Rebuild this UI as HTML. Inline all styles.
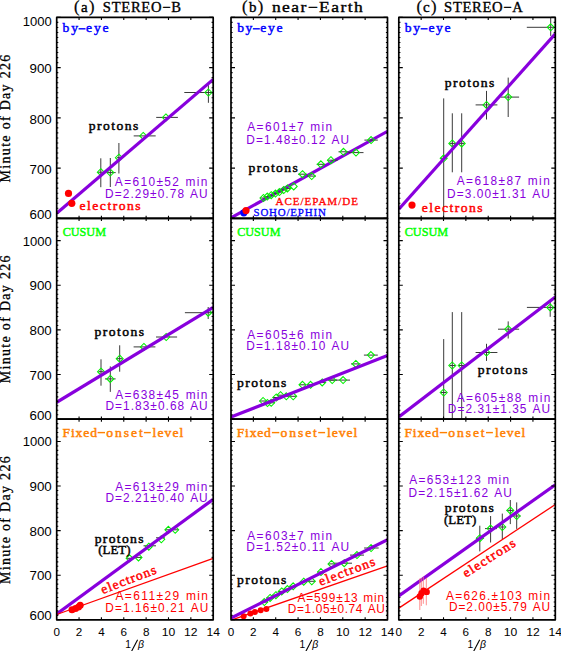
<!DOCTYPE html><html><head><meta charset="utf-8"><style>html,body{margin:0;padding:0;background:#fff;width:561px;height:651px;overflow:hidden}svg{display:block}</style></head><body>
<svg width="561" height="651" viewBox="0 0 561 651">
<rect width="561" height="651" fill="#fff"/>
<defs><clipPath id="c00"><rect x="56.7" y="17.4" width="156.5" height="200.90"/></clipPath><clipPath id="c01"><rect x="56.7" y="218.3" width="156.5" height="200.90"/></clipPath><clipPath id="c02"><rect x="56.7" y="419.2" width="156.5" height="200.60"/></clipPath><clipPath id="c10"><rect x="231.0" y="17.4" width="156.5" height="200.90"/></clipPath><clipPath id="c11"><rect x="231.0" y="218.3" width="156.5" height="200.90"/></clipPath><clipPath id="c12"><rect x="231.0" y="419.2" width="156.5" height="200.60"/></clipPath><clipPath id="c20"><rect x="398.8" y="17.4" width="156.5" height="200.90"/></clipPath><clipPath id="c21"><rect x="398.8" y="218.3" width="156.5" height="200.90"/></clipPath><clipPath id="c22"><rect x="398.8" y="419.2" width="156.5" height="200.60"/></clipPath></defs>
<g clip-path="url(#c00)">
<path d="M98.0 172.2H104.0M106.6 172.6H115.7M117.0 157.7H121.0M133.7 135.9H155.7M156.2 117.4H177.9M184.3 92.5H214.0M100.8 158.3V187.2M110.3 158.0V187.0M118.9 143.0V173.5M208.4 85.2V102.8" stroke="#3a3a3a" stroke-width="1" fill="none"/>
<path d="M100.8 168.7L104.3 172.2L100.8 175.7L97.3 172.2ZM110.3 169.1L113.8 172.6L110.3 176.1L106.8 172.6ZM118.9 154.2L122.4 157.7L118.9 161.2L115.4 157.7ZM143.2 132.4L146.7 135.9L143.2 139.4L139.7 135.9ZM165.9 113.9L169.4 117.4L165.9 120.9L162.4 117.4ZM208.4 89.0L211.9 92.5L208.4 96.0L204.9 92.5Z" stroke="#00f000" stroke-width="1.05" fill="none"/>
<line x1="56.7" y1="213.3" x2="213.2" y2="79.4" stroke="#8800dd" stroke-width="3.2"/>
<circle cx="68.5" cy="193.4" r="3.6" fill="#ff0000"/>
<circle cx="71.8" cy="203.3" r="3.6" fill="#ff0000"/>
</g>
<g clip-path="url(#c10)">
<line x1="231.0" y1="217.8" x2="387.5" y2="131.3" stroke="#8800dd" stroke-width="3.2"/>
<path d="M260.0 198.0H267.0M263.8 196.6H270.8M267.7 195.2H274.7M272.0 193.6H279.0M275.9 192.1H282.9M280.2 190.0H287.2M283.9 188.4H290.9M298.0 174.2H307.0M307.0 176.1H316.0M316.7 164.3H325.2M327.6 160.2H337.6M338.5 151.8H348.5M348.5 152.6H363.5M364.4 140.1H377.8" stroke="#3a3a3a" stroke-width="1" fill="none"/>
<path d="M263.5 194.5L267.0 198.0L263.5 201.5L260.0 198.0ZM267.3 193.1L270.8 196.6L267.3 200.1L263.8 196.6ZM271.2 191.7L274.7 195.2L271.2 198.7L267.7 195.2ZM275.5 190.1L279.0 193.6L275.5 197.1L272.0 193.6ZM279.4 188.6L282.9 192.1L279.4 195.6L275.9 192.1ZM283.7 186.5L287.2 190.0L283.7 193.5L280.2 190.0ZM287.4 184.9L290.9 188.4L287.4 191.9L283.9 188.4ZM293.7 182.9L297.2 186.4L293.7 189.9L290.2 186.4ZM302.5 170.7L306.0 174.2L302.5 177.7L299.0 174.2ZM311.7 172.6L315.2 176.1L311.7 179.6L308.2 176.1ZM320.9 160.8L324.4 164.3L320.9 167.8L317.4 164.3ZM330.9 156.7L334.4 160.2L330.9 163.7L327.4 160.2ZM343.5 148.3L347.0 151.8L343.5 155.3L340.0 151.8ZM356.0 149.1L359.5 152.6L356.0 156.1L352.5 152.6ZM371.1 136.6L374.6 140.1L371.1 143.6L367.6 140.1Z" stroke="#00f000" stroke-width="1.05" fill="none"/>
<circle cx="243.8" cy="212.8" r="3.6" fill="#0000ff"/>
<circle cx="246" cy="210.6" r="3.6" fill="#ff0000"/>
</g>
<g clip-path="url(#c20)">
<path d="M441.0 158.3H446.5M449.5 143.4H455.0M459.0 143.4H464.5M475.6 104.9H497.4M500.5 97.1H519.1M526.8 27.3H556.0M443.7 98.4V220.0M452.3 113.3V172.3M461.7 113.3V172.3M486.5 90.9V119.5M508.2 77.6V117.0M550.7 17.0V35.9" stroke="#3a3a3a" stroke-width="1" fill="none"/>
<path d="M443.7 154.8L447.2 158.3L443.7 161.8L440.2 158.3ZM452.3 139.9L455.8 143.4L452.3 146.9L448.8 143.4ZM461.7 139.9L465.2 143.4L461.7 146.9L458.2 143.4ZM486.5 101.4L490.0 104.9L486.5 108.4L483.0 104.9ZM508.2 93.6L511.7 97.1L508.2 100.6L504.7 97.1ZM550.7 23.8L554.2 27.3L550.7 30.8L547.2 27.3Z" stroke="#00f000" stroke-width="1.05" fill="none"/>
<line x1="398.8" y1="209.2" x2="555.3" y2="33.8" stroke="#8800dd" stroke-width="3.2"/>
<circle cx="412" cy="205.1" r="3.6" fill="#ff0000"/>
</g>
<g clip-path="url(#c01)">
<path d="M98.5 371.7H103.5M105.0 378.9H115.6M117.0 358.7H122.5M133.6 346.9H155.4M156.0 337.0H177.1M184.9 312.7H214.0M101.0 359.3V385.7M110.3 366.4V391.9M119.7 345.3V371.7M208.2 307.0V319.0" stroke="#3a3a3a" stroke-width="1" fill="none"/>
<path d="M101.0 368.2L104.5 371.7L101.0 375.2L97.5 371.7ZM110.3 375.4L113.8 378.9L110.3 382.4L106.8 378.9ZM119.7 355.2L123.2 358.7L119.7 362.2L116.2 358.7ZM143.9 343.4L147.4 346.9L143.9 350.4L140.4 346.9ZM166.2 333.5L169.7 337.0L166.2 340.5L162.7 337.0ZM208.2 309.2L211.7 312.7L208.2 316.2L204.7 312.7Z" stroke="#00f000" stroke-width="1.05" fill="none"/>
<line x1="56.7" y1="402.3" x2="213.2" y2="307.3" stroke="#8800dd" stroke-width="3.2"/>
</g>
<g clip-path="url(#c11)">
<path d="M259.6 401.0H266.6M264.0 403.0H271.0M267.7 402.8H274.7M272.8 397.5H279.8M277.0 395.2H284.0M282.8 396.3H289.8M289.7 396.3H296.7M299.0 384.8H306.0M307.1 384.8H314.1M318.7 382.4H325.7M328.0 380.1H337.0M329.2 380.1H350.0M351.0 363.9H360.5M363.9 355.1H377.8" stroke="#3a3a3a" stroke-width="1" fill="none"/>
<path d="M263.1 397.5L266.6 401.0L263.1 404.5L259.6 401.0ZM267.5 399.5L271.0 403.0L267.5 406.5L264.0 403.0ZM271.2 399.3L274.7 402.8L271.2 406.3L267.7 402.8ZM276.3 394.0L279.8 397.5L276.3 401.0L272.8 397.5ZM280.5 391.7L284.0 395.2L280.5 398.7L277.0 395.2ZM286.3 392.8L289.8 396.3L286.3 399.8L282.8 396.3ZM293.2 392.8L296.7 396.3L293.2 399.8L289.7 396.3ZM302.5 381.3L306.0 384.8L302.5 388.3L299.0 384.8ZM310.6 381.3L314.1 384.8L310.6 388.3L307.1 384.8ZM322.2 378.9L325.7 382.4L322.2 385.9L318.7 382.4ZM332.2 376.6L335.7 380.1L332.2 383.6L328.7 380.1ZM343.1 376.6L346.6 380.1L343.1 383.6L339.6 380.1ZM355.8 360.4L359.3 363.9L355.8 367.4L352.3 363.9ZM370.9 351.6L374.4 355.1L370.9 358.6L367.4 355.1Z" stroke="#00f000" stroke-width="1.05" fill="none"/>
<line x1="231.0" y1="417.0" x2="387.5" y2="355.6" stroke="#8800dd" stroke-width="3.2"/>
</g>
<g clip-path="url(#c21)">
<path d="M441.0 392.5H446.5M449.5 365.5H455.0M459.0 365.5H464.5M475.6 352.5H497.4M498.0 329.2H519.1M526.9 307.4H556.0M443.7 339.1V420.0M452.3 312.1V420.0M461.7 312.1V420.0M486.5 343.8V360.9M508.2 321.4V338.5M550.2 301.9V316.8" stroke="#3a3a3a" stroke-width="1" fill="none"/>
<path d="M443.7 389.0L447.2 392.5L443.7 396.0L440.2 392.5ZM452.3 362.0L455.8 365.5L452.3 369.0L448.8 365.5ZM461.7 362.0L465.2 365.5L461.7 369.0L458.2 365.5ZM486.5 349.0L490.0 352.5L486.5 356.0L483.0 352.5ZM508.2 325.7L511.7 329.2L508.2 332.7L504.7 329.2ZM550.2 303.9L553.7 307.4L550.2 310.9L546.7 307.4Z" stroke="#00f000" stroke-width="1.05" fill="none"/>
<line x1="398.8" y1="417.0" x2="555.3" y2="296.9" stroke="#8800dd" stroke-width="3.2"/>
</g>
<g clip-path="url(#c02)">
<path d="M126.0 558.3H133.0M135.0 557.4H142.0M143.5 545.8H156.0M156.0 537.8H164.9M165.0 529.8H172.0M172.0 529.8H178.5" stroke="#3a3a3a" stroke-width="1" fill="none"/>
<path d="M129.6 554.8L133.1 558.3L129.6 561.8L126.1 558.3ZM138.5 553.9L142.0 557.4L138.5 560.9L135.0 557.4ZM148.8 543.2L152.3 546.7L148.8 550.2L145.3 546.7ZM161.3 535.8L164.8 539.3L161.3 542.8L157.8 539.3ZM168.4 526.3L171.9 529.8L168.4 533.3L164.9 529.8ZM175.2 526.3L178.7 529.8L175.2 533.3L171.7 529.8Z" stroke="#00f000" stroke-width="1.05" fill="none"/>
<line x1="56.7" y1="614.0" x2="213.2" y2="499.3" stroke="#8800dd" stroke-width="3.2"/>
<line x1="56.7" y1="614.5" x2="213.2" y2="558.3" stroke="#ff0000" stroke-width="1.3"/>
<circle cx="72" cy="609.8" r="3.5" fill="#ff0000"/>
<circle cx="75.5" cy="608.6" r="3.5" fill="#ff0000"/>
<circle cx="78.5" cy="607.0" r="3.5" fill="#ff0000"/>
<circle cx="80.2" cy="605.3" r="3.5" fill="#ff0000"/>
</g>
<g clip-path="url(#c12)">
<path d="M260.8 602.1H267.8M266.6 597.9H273.6M272.4 595.2H279.4M278.2 591.4H285.2M283.9 589.1H290.9M289.7 586.3H296.7M300.2 581.7H307.2M308.3 581.3H315.3M317.5 572.0H324.5M328.0 563.9H335.0M334.0 563.2H352.0M350.0 555.1H364.0M364.1 548.0H378.7" stroke="#3a3a3a" stroke-width="1" fill="none"/>
<path d="M264.3 598.6L267.8 602.1L264.3 605.6L260.8 602.1ZM270.1 594.4L273.6 597.9L270.1 601.4L266.6 597.9ZM275.9 591.7L279.4 595.2L275.9 598.7L272.4 595.2ZM281.7 587.9L285.2 591.4L281.7 594.9L278.2 591.4ZM287.4 585.6L290.9 589.1L287.4 592.6L283.9 589.1ZM293.2 582.8L296.7 586.3L293.2 589.8L289.7 586.3ZM303.7 578.2L307.2 581.7L303.7 585.2L300.2 581.7ZM311.8 577.8L315.3 581.3L311.8 584.8L308.3 581.3ZM321.0 568.5L324.5 572.0L321.0 575.5L317.5 572.0ZM331.5 560.4L335.0 563.9L331.5 567.4L328.0 563.9ZM344.2 559.7L347.7 563.2L344.2 566.7L340.7 563.2ZM357.0 551.6L360.5 555.1L357.0 558.6L353.5 555.1ZM371.1 544.5L374.6 548.0L371.1 551.5L367.6 548.0Z" stroke="#00f000" stroke-width="1.05" fill="none"/>
<line x1="231.0" y1="620.2" x2="387.5" y2="565.8" stroke="#ff0000" stroke-width="1.3"/>
<circle cx="243.6" cy="616.2" r="3.0" fill="#ff0000"/>
<circle cx="250.4" cy="613.5" r="3.0" fill="#ff0000"/>
<circle cx="254.9" cy="611.9" r="3.0" fill="#ff0000"/>
<circle cx="260.7" cy="610.2" r="3.0" fill="#ff0000"/>
<circle cx="266.4" cy="609.0" r="3.0" fill="#ff0000"/>
<line x1="231.0" y1="618.0" x2="387.5" y2="539.6" stroke="#8800dd" stroke-width="3.2"/>
</g>
<g clip-path="url(#c22)">
<path d="M476.1 538.2H484.1M485.0 528.6H497.0M498.6 527.0H505.8M506.6 510.4H513.8M513.0 516.0H520.5M479.8 525.7V551.4M490.6 516.0V542.5M502.3 513.6V539.3M510.3 500.0V524.1M516.7 502.4V528.9" stroke="#3a3a3a" stroke-width="1" fill="none"/>
<path d="M479.8 534.7L483.3 538.2L479.8 541.7L476.3 538.2ZM490.6 525.1L494.1 528.6L490.6 532.1L487.1 528.6ZM502.3 523.5L505.8 527.0L502.3 530.5L498.8 527.0ZM510.3 506.9L513.8 510.4L510.3 513.9L506.8 510.4ZM516.7 512.5L520.2 516.0L516.7 519.5L513.2 516.0Z" stroke="#00f000" stroke-width="1.05" fill="none"/>
<line x1="398.8" y1="596.0" x2="555.3" y2="484.7" stroke="#8800dd" stroke-width="3.2"/>
<line x1="398.8" y1="608.1" x2="555.3" y2="504.5" stroke="#ff0000" stroke-width="1.3"/>
<path d="M419.8 578.5V610M421.3 578V606M423.3 576.8V603.8M426.3 577.8V605.3" stroke="#ff7070" stroke-opacity="0.8" stroke-width="1" fill="none"/>
<circle cx="419.8" cy="596.5" r="3.2" fill="#ff0000"/>
<circle cx="421.5" cy="593.2" r="3.2" fill="#ff0000"/>
<circle cx="423.6" cy="590.8" r="3.2" fill="#ff0000"/>
<circle cx="426.7" cy="591.9" r="3.2" fill="#ff0000"/>
</g>
<path d="M56.70 218.30h4.0M213.20 218.30h-4.0M56.70 213.28h1.6M213.20 213.28h-1.6M56.70 208.26h1.6M213.20 208.26h-1.6M56.70 203.23h1.6M213.20 203.23h-1.6M56.70 198.21h1.6M213.20 198.21h-1.6M56.70 193.19h1.6M213.20 193.19h-1.6M56.70 188.17h1.6M213.20 188.17h-1.6M56.70 183.14h1.6M213.20 183.14h-1.6M56.70 178.12h1.6M213.20 178.12h-1.6M56.70 173.10h1.6M213.20 173.10h-1.6M56.70 168.08h4.0M213.20 168.08h-4.0M56.70 163.05h1.6M213.20 163.05h-1.6M56.70 158.03h1.6M213.20 158.03h-1.6M56.70 153.01h1.6M213.20 153.01h-1.6M56.70 147.99h1.6M213.20 147.99h-1.6M56.70 142.96h1.6M213.20 142.96h-1.6M56.70 137.94h1.6M213.20 137.94h-1.6M56.70 132.92h1.6M213.20 132.92h-1.6M56.70 127.90h1.6M213.20 127.90h-1.6M56.70 122.87h1.6M213.20 122.87h-1.6M56.70 117.85h4.0M213.20 117.85h-4.0M56.70 112.83h1.6M213.20 112.83h-1.6M56.70 107.81h1.6M213.20 107.81h-1.6M56.70 102.78h1.6M213.20 102.78h-1.6M56.70 97.76h1.6M213.20 97.76h-1.6M56.70 92.74h1.6M213.20 92.74h-1.6M56.70 87.72h1.6M213.20 87.72h-1.6M56.70 82.69h1.6M213.20 82.69h-1.6M56.70 77.67h1.6M213.20 77.67h-1.6M56.70 72.65h1.6M213.20 72.65h-1.6M56.70 67.63h4.0M213.20 67.63h-4.0M56.70 62.60h1.6M213.20 62.60h-1.6M56.70 57.58h1.6M213.20 57.58h-1.6M56.70 52.56h1.6M213.20 52.56h-1.6M56.70 47.54h1.6M213.20 47.54h-1.6M56.70 42.51h1.6M213.20 42.51h-1.6M56.70 37.49h1.6M213.20 37.49h-1.6M56.70 32.47h1.6M213.20 32.47h-1.6M56.70 27.45h1.6M213.20 27.45h-1.6M56.70 22.42h1.6M213.20 22.42h-1.6M56.70 17.40h4.0M213.20 17.40h-4.0M79.06 218.30v-2.6M79.06 17.40v2.6M101.41 218.30v-2.6M101.41 17.40v2.6M123.77 218.30v-2.6M123.77 17.40v2.6M146.13 218.30v-2.6M146.13 17.40v2.6M168.49 218.30v-2.6M168.49 17.40v2.6M190.84 218.30v-2.6M190.84 17.40v2.6" stroke="#000" stroke-width="1.1" fill="none"/>
<rect x="56.7" y="17.4" width="156.5" height="200.90" fill="none" stroke="#000" stroke-width="1.7" stroke-linejoin="round"/>
<path d="M56.70 419.20h4.0M213.20 419.20h-4.0M56.70 414.74h1.6M213.20 414.74h-1.6M56.70 410.27h1.6M213.20 410.27h-1.6M56.70 405.81h1.6M213.20 405.81h-1.6M56.70 401.34h1.6M213.20 401.34h-1.6M56.70 396.88h1.6M213.20 396.88h-1.6M56.70 392.41h1.6M213.20 392.41h-1.6M56.70 387.95h1.6M213.20 387.95h-1.6M56.70 383.48h1.6M213.20 383.48h-1.6M56.70 379.02h1.6M213.20 379.02h-1.6M56.70 374.56h4.0M213.20 374.56h-4.0M56.70 370.09h1.6M213.20 370.09h-1.6M56.70 365.63h1.6M213.20 365.63h-1.6M56.70 361.16h1.6M213.20 361.16h-1.6M56.70 356.70h1.6M213.20 356.70h-1.6M56.70 352.23h1.6M213.20 352.23h-1.6M56.70 347.77h1.6M213.20 347.77h-1.6M56.70 343.30h1.6M213.20 343.30h-1.6M56.70 338.84h1.6M213.20 338.84h-1.6M56.70 334.38h1.6M213.20 334.38h-1.6M56.70 329.91h4.0M213.20 329.91h-4.0M56.70 325.45h1.6M213.20 325.45h-1.6M56.70 320.98h1.6M213.20 320.98h-1.6M56.70 316.52h1.6M213.20 316.52h-1.6M56.70 312.05h1.6M213.20 312.05h-1.6M56.70 307.59h1.6M213.20 307.59h-1.6M56.70 303.12h1.6M213.20 303.12h-1.6M56.70 298.66h1.6M213.20 298.66h-1.6M56.70 294.20h1.6M213.20 294.20h-1.6M56.70 289.73h1.6M213.20 289.73h-1.6M56.70 285.27h4.0M213.20 285.27h-4.0M56.70 280.80h1.6M213.20 280.80h-1.6M56.70 276.34h1.6M213.20 276.34h-1.6M56.70 271.87h1.6M213.20 271.87h-1.6M56.70 267.41h1.6M213.20 267.41h-1.6M56.70 262.94h1.6M213.20 262.94h-1.6M56.70 258.48h1.6M213.20 258.48h-1.6M56.70 254.02h1.6M213.20 254.02h-1.6M56.70 249.55h1.6M213.20 249.55h-1.6M56.70 245.09h1.6M213.20 245.09h-1.6M56.70 240.62h4.0M213.20 240.62h-4.0M56.70 236.16h1.6M213.20 236.16h-1.6M56.70 231.69h1.6M213.20 231.69h-1.6M56.70 227.23h1.6M213.20 227.23h-1.6M56.70 222.76h1.6M213.20 222.76h-1.6M56.70 218.30h1.6M213.20 218.30h-1.6M79.06 419.20v-2.6M79.06 218.30v2.6M101.41 419.20v-2.6M101.41 218.30v2.6M123.77 419.20v-2.6M123.77 218.30v2.6M146.13 419.20v-2.6M146.13 218.30v2.6M168.49 419.20v-2.6M168.49 218.30v2.6M190.84 419.20v-2.6M190.84 218.30v2.6" stroke="#000" stroke-width="1.1" fill="none"/>
<rect x="56.7" y="218.3" width="156.5" height="200.90" fill="none" stroke="#000" stroke-width="1.7" stroke-linejoin="round"/>
<path d="M56.70 619.80h4.0M213.20 619.80h-4.0M56.70 615.34h1.6M213.20 615.34h-1.6M56.70 610.88h1.6M213.20 610.88h-1.6M56.70 606.43h1.6M213.20 606.43h-1.6M56.70 601.97h1.6M213.20 601.97h-1.6M56.70 597.51h1.6M213.20 597.51h-1.6M56.70 593.05h1.6M213.20 593.05h-1.6M56.70 588.60h1.6M213.20 588.60h-1.6M56.70 584.14h1.6M213.20 584.14h-1.6M56.70 579.68h1.6M213.20 579.68h-1.6M56.70 575.22h4.0M213.20 575.22h-4.0M56.70 570.76h1.6M213.20 570.76h-1.6M56.70 566.31h1.6M213.20 566.31h-1.6M56.70 561.85h1.6M213.20 561.85h-1.6M56.70 557.39h1.6M213.20 557.39h-1.6M56.70 552.93h1.6M213.20 552.93h-1.6M56.70 548.48h1.6M213.20 548.48h-1.6M56.70 544.02h1.6M213.20 544.02h-1.6M56.70 539.56h1.6M213.20 539.56h-1.6M56.70 535.10h1.6M213.20 535.10h-1.6M56.70 530.64h4.0M213.20 530.64h-4.0M56.70 526.19h1.6M213.20 526.19h-1.6M56.70 521.73h1.6M213.20 521.73h-1.6M56.70 517.27h1.6M213.20 517.27h-1.6M56.70 512.81h1.6M213.20 512.81h-1.6M56.70 508.36h1.6M213.20 508.36h-1.6M56.70 503.90h1.6M213.20 503.90h-1.6M56.70 499.44h1.6M213.20 499.44h-1.6M56.70 494.98h1.6M213.20 494.98h-1.6M56.70 490.52h1.6M213.20 490.52h-1.6M56.70 486.07h4.0M213.20 486.07h-4.0M56.70 481.61h1.6M213.20 481.61h-1.6M56.70 477.15h1.6M213.20 477.15h-1.6M56.70 472.69h1.6M213.20 472.69h-1.6M56.70 468.24h1.6M213.20 468.24h-1.6M56.70 463.78h1.6M213.20 463.78h-1.6M56.70 459.32h1.6M213.20 459.32h-1.6M56.70 454.86h1.6M213.20 454.86h-1.6M56.70 450.40h1.6M213.20 450.40h-1.6M56.70 445.95h1.6M213.20 445.95h-1.6M56.70 441.49h4.0M213.20 441.49h-4.0M56.70 437.03h1.6M213.20 437.03h-1.6M56.70 432.57h1.6M213.20 432.57h-1.6M56.70 428.12h1.6M213.20 428.12h-1.6M56.70 423.66h1.6M213.20 423.66h-1.6M56.70 419.20h1.6M213.20 419.20h-1.6M79.06 619.80v-2.6M79.06 419.20v2.6M101.41 619.80v-2.6M101.41 419.20v2.6M123.77 619.80v-2.6M123.77 419.20v2.6M146.13 619.80v-2.6M146.13 419.20v2.6M168.49 619.80v-2.6M168.49 419.20v2.6M190.84 619.80v-2.6M190.84 419.20v2.6" stroke="#000" stroke-width="1.1" fill="none"/>
<rect x="56.7" y="419.2" width="156.5" height="200.60" fill="none" stroke="#000" stroke-width="1.7" stroke-linejoin="round"/>
<path d="M231.00 218.30h4.0M387.50 218.30h-4.0M231.00 213.28h1.6M387.50 213.28h-1.6M231.00 208.26h1.6M387.50 208.26h-1.6M231.00 203.23h1.6M387.50 203.23h-1.6M231.00 198.21h1.6M387.50 198.21h-1.6M231.00 193.19h1.6M387.50 193.19h-1.6M231.00 188.17h1.6M387.50 188.17h-1.6M231.00 183.14h1.6M387.50 183.14h-1.6M231.00 178.12h1.6M387.50 178.12h-1.6M231.00 173.10h1.6M387.50 173.10h-1.6M231.00 168.08h4.0M387.50 168.08h-4.0M231.00 163.05h1.6M387.50 163.05h-1.6M231.00 158.03h1.6M387.50 158.03h-1.6M231.00 153.01h1.6M387.50 153.01h-1.6M231.00 147.99h1.6M387.50 147.99h-1.6M231.00 142.96h1.6M387.50 142.96h-1.6M231.00 137.94h1.6M387.50 137.94h-1.6M231.00 132.92h1.6M387.50 132.92h-1.6M231.00 127.90h1.6M387.50 127.90h-1.6M231.00 122.87h1.6M387.50 122.87h-1.6M231.00 117.85h4.0M387.50 117.85h-4.0M231.00 112.83h1.6M387.50 112.83h-1.6M231.00 107.81h1.6M387.50 107.81h-1.6M231.00 102.78h1.6M387.50 102.78h-1.6M231.00 97.76h1.6M387.50 97.76h-1.6M231.00 92.74h1.6M387.50 92.74h-1.6M231.00 87.72h1.6M387.50 87.72h-1.6M231.00 82.69h1.6M387.50 82.69h-1.6M231.00 77.67h1.6M387.50 77.67h-1.6M231.00 72.65h1.6M387.50 72.65h-1.6M231.00 67.63h4.0M387.50 67.63h-4.0M231.00 62.60h1.6M387.50 62.60h-1.6M231.00 57.58h1.6M387.50 57.58h-1.6M231.00 52.56h1.6M387.50 52.56h-1.6M231.00 47.54h1.6M387.50 47.54h-1.6M231.00 42.51h1.6M387.50 42.51h-1.6M231.00 37.49h1.6M387.50 37.49h-1.6M231.00 32.47h1.6M387.50 32.47h-1.6M231.00 27.45h1.6M387.50 27.45h-1.6M231.00 22.42h1.6M387.50 22.42h-1.6M231.00 17.40h4.0M387.50 17.40h-4.0M253.36 218.30v-2.6M253.36 17.40v2.6M275.71 218.30v-2.6M275.71 17.40v2.6M298.07 218.30v-2.6M298.07 17.40v2.6M320.43 218.30v-2.6M320.43 17.40v2.6M342.79 218.30v-2.6M342.79 17.40v2.6M365.14 218.30v-2.6M365.14 17.40v2.6" stroke="#000" stroke-width="1.1" fill="none"/>
<rect x="231.0" y="17.4" width="156.5" height="200.90" fill="none" stroke="#000" stroke-width="1.7" stroke-linejoin="round"/>
<path d="M231.00 419.20h4.0M387.50 419.20h-4.0M231.00 414.74h1.6M387.50 414.74h-1.6M231.00 410.27h1.6M387.50 410.27h-1.6M231.00 405.81h1.6M387.50 405.81h-1.6M231.00 401.34h1.6M387.50 401.34h-1.6M231.00 396.88h1.6M387.50 396.88h-1.6M231.00 392.41h1.6M387.50 392.41h-1.6M231.00 387.95h1.6M387.50 387.95h-1.6M231.00 383.48h1.6M387.50 383.48h-1.6M231.00 379.02h1.6M387.50 379.02h-1.6M231.00 374.56h4.0M387.50 374.56h-4.0M231.00 370.09h1.6M387.50 370.09h-1.6M231.00 365.63h1.6M387.50 365.63h-1.6M231.00 361.16h1.6M387.50 361.16h-1.6M231.00 356.70h1.6M387.50 356.70h-1.6M231.00 352.23h1.6M387.50 352.23h-1.6M231.00 347.77h1.6M387.50 347.77h-1.6M231.00 343.30h1.6M387.50 343.30h-1.6M231.00 338.84h1.6M387.50 338.84h-1.6M231.00 334.38h1.6M387.50 334.38h-1.6M231.00 329.91h4.0M387.50 329.91h-4.0M231.00 325.45h1.6M387.50 325.45h-1.6M231.00 320.98h1.6M387.50 320.98h-1.6M231.00 316.52h1.6M387.50 316.52h-1.6M231.00 312.05h1.6M387.50 312.05h-1.6M231.00 307.59h1.6M387.50 307.59h-1.6M231.00 303.12h1.6M387.50 303.12h-1.6M231.00 298.66h1.6M387.50 298.66h-1.6M231.00 294.20h1.6M387.50 294.20h-1.6M231.00 289.73h1.6M387.50 289.73h-1.6M231.00 285.27h4.0M387.50 285.27h-4.0M231.00 280.80h1.6M387.50 280.80h-1.6M231.00 276.34h1.6M387.50 276.34h-1.6M231.00 271.87h1.6M387.50 271.87h-1.6M231.00 267.41h1.6M387.50 267.41h-1.6M231.00 262.94h1.6M387.50 262.94h-1.6M231.00 258.48h1.6M387.50 258.48h-1.6M231.00 254.02h1.6M387.50 254.02h-1.6M231.00 249.55h1.6M387.50 249.55h-1.6M231.00 245.09h1.6M387.50 245.09h-1.6M231.00 240.62h4.0M387.50 240.62h-4.0M231.00 236.16h1.6M387.50 236.16h-1.6M231.00 231.69h1.6M387.50 231.69h-1.6M231.00 227.23h1.6M387.50 227.23h-1.6M231.00 222.76h1.6M387.50 222.76h-1.6M231.00 218.30h1.6M387.50 218.30h-1.6M253.36 419.20v-2.6M253.36 218.30v2.6M275.71 419.20v-2.6M275.71 218.30v2.6M298.07 419.20v-2.6M298.07 218.30v2.6M320.43 419.20v-2.6M320.43 218.30v2.6M342.79 419.20v-2.6M342.79 218.30v2.6M365.14 419.20v-2.6M365.14 218.30v2.6" stroke="#000" stroke-width="1.1" fill="none"/>
<rect x="231.0" y="218.3" width="156.5" height="200.90" fill="none" stroke="#000" stroke-width="1.7" stroke-linejoin="round"/>
<path d="M231.00 619.80h4.0M387.50 619.80h-4.0M231.00 615.34h1.6M387.50 615.34h-1.6M231.00 610.88h1.6M387.50 610.88h-1.6M231.00 606.43h1.6M387.50 606.43h-1.6M231.00 601.97h1.6M387.50 601.97h-1.6M231.00 597.51h1.6M387.50 597.51h-1.6M231.00 593.05h1.6M387.50 593.05h-1.6M231.00 588.60h1.6M387.50 588.60h-1.6M231.00 584.14h1.6M387.50 584.14h-1.6M231.00 579.68h1.6M387.50 579.68h-1.6M231.00 575.22h4.0M387.50 575.22h-4.0M231.00 570.76h1.6M387.50 570.76h-1.6M231.00 566.31h1.6M387.50 566.31h-1.6M231.00 561.85h1.6M387.50 561.85h-1.6M231.00 557.39h1.6M387.50 557.39h-1.6M231.00 552.93h1.6M387.50 552.93h-1.6M231.00 548.48h1.6M387.50 548.48h-1.6M231.00 544.02h1.6M387.50 544.02h-1.6M231.00 539.56h1.6M387.50 539.56h-1.6M231.00 535.10h1.6M387.50 535.10h-1.6M231.00 530.64h4.0M387.50 530.64h-4.0M231.00 526.19h1.6M387.50 526.19h-1.6M231.00 521.73h1.6M387.50 521.73h-1.6M231.00 517.27h1.6M387.50 517.27h-1.6M231.00 512.81h1.6M387.50 512.81h-1.6M231.00 508.36h1.6M387.50 508.36h-1.6M231.00 503.90h1.6M387.50 503.90h-1.6M231.00 499.44h1.6M387.50 499.44h-1.6M231.00 494.98h1.6M387.50 494.98h-1.6M231.00 490.52h1.6M387.50 490.52h-1.6M231.00 486.07h4.0M387.50 486.07h-4.0M231.00 481.61h1.6M387.50 481.61h-1.6M231.00 477.15h1.6M387.50 477.15h-1.6M231.00 472.69h1.6M387.50 472.69h-1.6M231.00 468.24h1.6M387.50 468.24h-1.6M231.00 463.78h1.6M387.50 463.78h-1.6M231.00 459.32h1.6M387.50 459.32h-1.6M231.00 454.86h1.6M387.50 454.86h-1.6M231.00 450.40h1.6M387.50 450.40h-1.6M231.00 445.95h1.6M387.50 445.95h-1.6M231.00 441.49h4.0M387.50 441.49h-4.0M231.00 437.03h1.6M387.50 437.03h-1.6M231.00 432.57h1.6M387.50 432.57h-1.6M231.00 428.12h1.6M387.50 428.12h-1.6M231.00 423.66h1.6M387.50 423.66h-1.6M231.00 419.20h1.6M387.50 419.20h-1.6M253.36 619.80v-2.6M253.36 419.20v2.6M275.71 619.80v-2.6M275.71 419.20v2.6M298.07 619.80v-2.6M298.07 419.20v2.6M320.43 619.80v-2.6M320.43 419.20v2.6M342.79 619.80v-2.6M342.79 419.20v2.6M365.14 619.80v-2.6M365.14 419.20v2.6" stroke="#000" stroke-width="1.1" fill="none"/>
<rect x="231.0" y="419.2" width="156.5" height="200.60" fill="none" stroke="#000" stroke-width="1.7" stroke-linejoin="round"/>
<path d="M398.80 218.30h4.0M555.30 218.30h-4.0M398.80 213.28h1.6M555.30 213.28h-1.6M398.80 208.26h1.6M555.30 208.26h-1.6M398.80 203.23h1.6M555.30 203.23h-1.6M398.80 198.21h1.6M555.30 198.21h-1.6M398.80 193.19h1.6M555.30 193.19h-1.6M398.80 188.17h1.6M555.30 188.17h-1.6M398.80 183.14h1.6M555.30 183.14h-1.6M398.80 178.12h1.6M555.30 178.12h-1.6M398.80 173.10h1.6M555.30 173.10h-1.6M398.80 168.08h4.0M555.30 168.08h-4.0M398.80 163.05h1.6M555.30 163.05h-1.6M398.80 158.03h1.6M555.30 158.03h-1.6M398.80 153.01h1.6M555.30 153.01h-1.6M398.80 147.99h1.6M555.30 147.99h-1.6M398.80 142.96h1.6M555.30 142.96h-1.6M398.80 137.94h1.6M555.30 137.94h-1.6M398.80 132.92h1.6M555.30 132.92h-1.6M398.80 127.90h1.6M555.30 127.90h-1.6M398.80 122.87h1.6M555.30 122.87h-1.6M398.80 117.85h4.0M555.30 117.85h-4.0M398.80 112.83h1.6M555.30 112.83h-1.6M398.80 107.81h1.6M555.30 107.81h-1.6M398.80 102.78h1.6M555.30 102.78h-1.6M398.80 97.76h1.6M555.30 97.76h-1.6M398.80 92.74h1.6M555.30 92.74h-1.6M398.80 87.72h1.6M555.30 87.72h-1.6M398.80 82.69h1.6M555.30 82.69h-1.6M398.80 77.67h1.6M555.30 77.67h-1.6M398.80 72.65h1.6M555.30 72.65h-1.6M398.80 67.63h4.0M555.30 67.63h-4.0M398.80 62.60h1.6M555.30 62.60h-1.6M398.80 57.58h1.6M555.30 57.58h-1.6M398.80 52.56h1.6M555.30 52.56h-1.6M398.80 47.54h1.6M555.30 47.54h-1.6M398.80 42.51h1.6M555.30 42.51h-1.6M398.80 37.49h1.6M555.30 37.49h-1.6M398.80 32.47h1.6M555.30 32.47h-1.6M398.80 27.45h1.6M555.30 27.45h-1.6M398.80 22.42h1.6M555.30 22.42h-1.6M398.80 17.40h4.0M555.30 17.40h-4.0M421.16 218.30v-2.6M421.16 17.40v2.6M443.51 218.30v-2.6M443.51 17.40v2.6M465.87 218.30v-2.6M465.87 17.40v2.6M488.23 218.30v-2.6M488.23 17.40v2.6M510.59 218.30v-2.6M510.59 17.40v2.6M532.94 218.30v-2.6M532.94 17.40v2.6" stroke="#000" stroke-width="1.1" fill="none"/>
<rect x="398.8" y="17.4" width="156.5" height="200.90" fill="none" stroke="#000" stroke-width="1.7" stroke-linejoin="round"/>
<path d="M398.80 419.20h4.0M555.30 419.20h-4.0M398.80 414.74h1.6M555.30 414.74h-1.6M398.80 410.27h1.6M555.30 410.27h-1.6M398.80 405.81h1.6M555.30 405.81h-1.6M398.80 401.34h1.6M555.30 401.34h-1.6M398.80 396.88h1.6M555.30 396.88h-1.6M398.80 392.41h1.6M555.30 392.41h-1.6M398.80 387.95h1.6M555.30 387.95h-1.6M398.80 383.48h1.6M555.30 383.48h-1.6M398.80 379.02h1.6M555.30 379.02h-1.6M398.80 374.56h4.0M555.30 374.56h-4.0M398.80 370.09h1.6M555.30 370.09h-1.6M398.80 365.63h1.6M555.30 365.63h-1.6M398.80 361.16h1.6M555.30 361.16h-1.6M398.80 356.70h1.6M555.30 356.70h-1.6M398.80 352.23h1.6M555.30 352.23h-1.6M398.80 347.77h1.6M555.30 347.77h-1.6M398.80 343.30h1.6M555.30 343.30h-1.6M398.80 338.84h1.6M555.30 338.84h-1.6M398.80 334.38h1.6M555.30 334.38h-1.6M398.80 329.91h4.0M555.30 329.91h-4.0M398.80 325.45h1.6M555.30 325.45h-1.6M398.80 320.98h1.6M555.30 320.98h-1.6M398.80 316.52h1.6M555.30 316.52h-1.6M398.80 312.05h1.6M555.30 312.05h-1.6M398.80 307.59h1.6M555.30 307.59h-1.6M398.80 303.12h1.6M555.30 303.12h-1.6M398.80 298.66h1.6M555.30 298.66h-1.6M398.80 294.20h1.6M555.30 294.20h-1.6M398.80 289.73h1.6M555.30 289.73h-1.6M398.80 285.27h4.0M555.30 285.27h-4.0M398.80 280.80h1.6M555.30 280.80h-1.6M398.80 276.34h1.6M555.30 276.34h-1.6M398.80 271.87h1.6M555.30 271.87h-1.6M398.80 267.41h1.6M555.30 267.41h-1.6M398.80 262.94h1.6M555.30 262.94h-1.6M398.80 258.48h1.6M555.30 258.48h-1.6M398.80 254.02h1.6M555.30 254.02h-1.6M398.80 249.55h1.6M555.30 249.55h-1.6M398.80 245.09h1.6M555.30 245.09h-1.6M398.80 240.62h4.0M555.30 240.62h-4.0M398.80 236.16h1.6M555.30 236.16h-1.6M398.80 231.69h1.6M555.30 231.69h-1.6M398.80 227.23h1.6M555.30 227.23h-1.6M398.80 222.76h1.6M555.30 222.76h-1.6M398.80 218.30h1.6M555.30 218.30h-1.6M421.16 419.20v-2.6M421.16 218.30v2.6M443.51 419.20v-2.6M443.51 218.30v2.6M465.87 419.20v-2.6M465.87 218.30v2.6M488.23 419.20v-2.6M488.23 218.30v2.6M510.59 419.20v-2.6M510.59 218.30v2.6M532.94 419.20v-2.6M532.94 218.30v2.6" stroke="#000" stroke-width="1.1" fill="none"/>
<rect x="398.8" y="218.3" width="156.5" height="200.90" fill="none" stroke="#000" stroke-width="1.7" stroke-linejoin="round"/>
<path d="M398.80 619.80h4.0M555.30 619.80h-4.0M398.80 615.34h1.6M555.30 615.34h-1.6M398.80 610.88h1.6M555.30 610.88h-1.6M398.80 606.43h1.6M555.30 606.43h-1.6M398.80 601.97h1.6M555.30 601.97h-1.6M398.80 597.51h1.6M555.30 597.51h-1.6M398.80 593.05h1.6M555.30 593.05h-1.6M398.80 588.60h1.6M555.30 588.60h-1.6M398.80 584.14h1.6M555.30 584.14h-1.6M398.80 579.68h1.6M555.30 579.68h-1.6M398.80 575.22h4.0M555.30 575.22h-4.0M398.80 570.76h1.6M555.30 570.76h-1.6M398.80 566.31h1.6M555.30 566.31h-1.6M398.80 561.85h1.6M555.30 561.85h-1.6M398.80 557.39h1.6M555.30 557.39h-1.6M398.80 552.93h1.6M555.30 552.93h-1.6M398.80 548.48h1.6M555.30 548.48h-1.6M398.80 544.02h1.6M555.30 544.02h-1.6M398.80 539.56h1.6M555.30 539.56h-1.6M398.80 535.10h1.6M555.30 535.10h-1.6M398.80 530.64h4.0M555.30 530.64h-4.0M398.80 526.19h1.6M555.30 526.19h-1.6M398.80 521.73h1.6M555.30 521.73h-1.6M398.80 517.27h1.6M555.30 517.27h-1.6M398.80 512.81h1.6M555.30 512.81h-1.6M398.80 508.36h1.6M555.30 508.36h-1.6M398.80 503.90h1.6M555.30 503.90h-1.6M398.80 499.44h1.6M555.30 499.44h-1.6M398.80 494.98h1.6M555.30 494.98h-1.6M398.80 490.52h1.6M555.30 490.52h-1.6M398.80 486.07h4.0M555.30 486.07h-4.0M398.80 481.61h1.6M555.30 481.61h-1.6M398.80 477.15h1.6M555.30 477.15h-1.6M398.80 472.69h1.6M555.30 472.69h-1.6M398.80 468.24h1.6M555.30 468.24h-1.6M398.80 463.78h1.6M555.30 463.78h-1.6M398.80 459.32h1.6M555.30 459.32h-1.6M398.80 454.86h1.6M555.30 454.86h-1.6M398.80 450.40h1.6M555.30 450.40h-1.6M398.80 445.95h1.6M555.30 445.95h-1.6M398.80 441.49h4.0M555.30 441.49h-4.0M398.80 437.03h1.6M555.30 437.03h-1.6M398.80 432.57h1.6M555.30 432.57h-1.6M398.80 428.12h1.6M555.30 428.12h-1.6M398.80 423.66h1.6M555.30 423.66h-1.6M398.80 419.20h1.6M555.30 419.20h-1.6M421.16 619.80v-2.6M421.16 419.20v2.6M443.51 619.80v-2.6M443.51 419.20v2.6M465.87 619.80v-2.6M465.87 419.20v2.6M488.23 619.80v-2.6M488.23 419.20v2.6M510.59 619.80v-2.6M510.59 419.20v2.6M532.94 619.80v-2.6M532.94 419.20v2.6" stroke="#000" stroke-width="1.1" fill="none"/>
<rect x="398.8" y="419.2" width="156.5" height="200.60" fill="none" stroke="#000" stroke-width="1.7" stroke-linejoin="round"/>
<text x="74.1" y="11.7" font-family="Liberation Serif, serif" font-size="16.5" font-weight="normal" fill="#000" text-anchor="start" stroke="#000" stroke-width="0.25" >(</text>
<text x="94.6" y="11.7" font-family="Liberation Serif, serif" font-size="16.5" font-weight="normal" fill="#000" text-anchor="end" stroke="#000" stroke-width="0.25" >)</text>
<text x="84.35" y="12.0" font-family="Liberation Serif, serif" font-size="15" font-weight="normal" fill="#000" text-anchor="middle" stroke="#000" stroke-width="0.35" >a</text>
<text x="102.83" y="12.0" font-family="Liberation Serif, serif" font-size="14.6" font-weight="normal" fill="#000" text-anchor="start" textLength="78.78" lengthAdjust="spacingAndGlyphs" stroke="#000" stroke-width="0.35"  letter-spacing="0.71">STEREO−B</text>
<text x="242.1" y="11.7" font-family="Liberation Serif, serif" font-size="16.5" font-weight="normal" fill="#000" text-anchor="start" stroke="#000" stroke-width="0.25" >(</text>
<text x="263.2" y="11.7" font-family="Liberation Serif, serif" font-size="16.5" font-weight="normal" fill="#000" text-anchor="end" stroke="#000" stroke-width="0.25" >)</text>
<text x="252.64999999999998" y="12.0" font-family="Liberation Serif, serif" font-size="15" font-weight="normal" fill="#000" text-anchor="middle" stroke="#000" stroke-width="0.35" >b</text>
<text x="271.95" y="12.0" font-family="Liberation Serif, serif" font-size="14.6" font-weight="normal" fill="#000" text-anchor="start" textLength="92.22" lengthAdjust="spacingAndGlyphs" stroke="#000" stroke-width="0.35"  letter-spacing="1.19">near−Earth</text>
<text x="416.4" y="11.7" font-family="Liberation Serif, serif" font-size="16.5" font-weight="normal" fill="#000" text-anchor="start" stroke="#000" stroke-width="0.25" >(</text>
<text x="436.4" y="11.7" font-family="Liberation Serif, serif" font-size="16.5" font-weight="normal" fill="#000" text-anchor="end" stroke="#000" stroke-width="0.25" >)</text>
<text x="426.4" y="12.0" font-family="Liberation Serif, serif" font-size="15" font-weight="normal" fill="#000" text-anchor="middle" stroke="#000" stroke-width="0.35" >c</text>
<text x="444.11" y="12.0" font-family="Liberation Serif, serif" font-size="14.6" font-weight="normal" fill="#000" text-anchor="start" textLength="79.31" lengthAdjust="spacingAndGlyphs" stroke="#000" stroke-width="0.35"  letter-spacing="0.67">STEREO−A</text>
<text x="62.59" y="32.2" font-family="Liberation Serif, serif" font-size="13.1" font-weight="normal" fill="#0000ff" text-anchor="start" textLength="17.37" lengthAdjust="spacingAndGlyphs" stroke="#0000ff" stroke-width="0.45"  letter-spacing="1.80">by</text>
<rect x="78.6" y="28.1" width="6.9" height="1.4" fill="#0000ff"/>
<text x="86.09" y="32.2" font-family="Liberation Serif, serif" font-size="13.1" font-weight="normal" fill="#0000ff" text-anchor="start" textLength="24.24" lengthAdjust="spacingAndGlyphs" stroke="#0000ff" stroke-width="0.45"  letter-spacing="1.71">eye</text>
<text x="62.65" y="235.9" font-family="Liberation Serif, serif" font-size="13.1" font-weight="normal" fill="#00ff00" text-anchor="start" textLength="43.34" lengthAdjust="spacingAndGlyphs" stroke="#00ff00" stroke-width="0.45"  letter-spacing="0.00">CUSUM</text>
<text x="62.55" y="436.7" font-family="Liberation Serif, serif" font-size="13.1" font-weight="normal" fill="#ff8000" text-anchor="start" textLength="35.31" lengthAdjust="spacingAndGlyphs" stroke="#ff8000" stroke-width="0.45"  letter-spacing="0.82">Fixed</text>
<rect x="97.6" y="431.9" width="7.4" height="1.4" fill="#ff8000"/>
<text x="106.21" y="436.7" font-family="Liberation Serif, serif" font-size="13.1" font-weight="normal" fill="#ff8000" text-anchor="start" textLength="38.62" lengthAdjust="spacingAndGlyphs" stroke="#ff8000" stroke-width="0.45"  letter-spacing="1.90">onset</text>
<rect x="143.9" y="431.9" width="6.9" height="1.4" fill="#ff8000"/>
<text x="152.54" y="436.7" font-family="Liberation Serif, serif" font-size="13.1" font-weight="normal" fill="#ff8000" text-anchor="start" textLength="31.84" lengthAdjust="spacingAndGlyphs" stroke="#ff8000" stroke-width="0.45"  letter-spacing="1.03">level</text>
<text x="237.32" y="32.2" font-family="Liberation Serif, serif" font-size="13.1" font-weight="normal" fill="#0000ff" text-anchor="start" textLength="16.16" lengthAdjust="spacingAndGlyphs" stroke="#0000ff" stroke-width="0.45"  letter-spacing="1.22">by</text>
<rect x="252.9" y="28.1" width="6.9" height="1.4" fill="#0000ff"/>
<text x="260.34" y="32.2" font-family="Liberation Serif, serif" font-size="13.1" font-weight="normal" fill="#0000ff" text-anchor="start" textLength="24.07" lengthAdjust="spacingAndGlyphs" stroke="#0000ff" stroke-width="0.45"  letter-spacing="1.66">eye</text>
<text x="237.17" y="235.9" font-family="Liberation Serif, serif" font-size="13.1" font-weight="normal" fill="#00ff00" text-anchor="start" textLength="43.31" lengthAdjust="spacingAndGlyphs" stroke="#00ff00" stroke-width="0.45"  letter-spacing="0.00">CUSUM</text>
<text x="236.8" y="436.7" font-family="Liberation Serif, serif" font-size="13.1" font-weight="normal" fill="#ff8000" text-anchor="start" textLength="34.76" lengthAdjust="spacingAndGlyphs" stroke="#ff8000" stroke-width="0.45"  letter-spacing="0.72">Fixed</text>
<rect x="271.9" y="431.9" width="7.4" height="1.4" fill="#ff8000"/>
<text x="280.64" y="436.7" font-family="Liberation Serif, serif" font-size="13.1" font-weight="normal" fill="#ff8000" text-anchor="start" textLength="38.11" lengthAdjust="spacingAndGlyphs" stroke="#ff8000" stroke-width="0.45"  letter-spacing="1.80">onset</text>
<rect x="318.2" y="431.9" width="6.9" height="1.4" fill="#ff8000"/>
<text x="327.1" y="436.7" font-family="Liberation Serif, serif" font-size="13.1" font-weight="normal" fill="#ff8000" text-anchor="start" textLength="31.23" lengthAdjust="spacingAndGlyphs" stroke="#ff8000" stroke-width="0.45"  letter-spacing="0.91">level</text>
<text x="404.87" y="32.2" font-family="Liberation Serif, serif" font-size="13.1" font-weight="normal" fill="#0000ff" text-anchor="start" textLength="16.9" lengthAdjust="spacingAndGlyphs" stroke="#0000ff" stroke-width="0.45"  letter-spacing="1.58">by</text>
<rect x="420.7" y="28.1" width="6.9" height="1.4" fill="#0000ff"/>
<text x="428.44" y="32.2" font-family="Liberation Serif, serif" font-size="13.1" font-weight="normal" fill="#0000ff" text-anchor="start" textLength="23.71" lengthAdjust="spacingAndGlyphs" stroke="#0000ff" stroke-width="0.45"  letter-spacing="1.54">eye</text>
<text x="404.66" y="235.9" font-family="Liberation Serif, serif" font-size="13.1" font-weight="normal" fill="#00ff00" text-anchor="start" textLength="43.55" lengthAdjust="spacingAndGlyphs" stroke="#00ff00" stroke-width="0.45"  letter-spacing="0.00">CUSUM</text>
<text x="404.42" y="436.7" font-family="Liberation Serif, serif" font-size="13.1" font-weight="normal" fill="#ff8000" text-anchor="start" textLength="35.22" lengthAdjust="spacingAndGlyphs" stroke="#ff8000" stroke-width="0.45"  letter-spacing="0.81">Fixed</text>
<rect x="439.7" y="431.9" width="7.4" height="1.4" fill="#ff8000"/>
<text x="448.35" y="436.7" font-family="Liberation Serif, serif" font-size="13.1" font-weight="normal" fill="#ff8000" text-anchor="start" textLength="38.17" lengthAdjust="spacingAndGlyphs" stroke="#ff8000" stroke-width="0.45"  letter-spacing="1.81">onset</text>
<rect x="486.0" y="431.9" width="6.9" height="1.4" fill="#ff8000"/>
<text x="495.09" y="436.7" font-family="Liberation Serif, serif" font-size="13.1" font-weight="normal" fill="#ff8000" text-anchor="start" textLength="31.03" lengthAdjust="spacingAndGlyphs" stroke="#ff8000" stroke-width="0.45"  letter-spacing="0.88">level</text>
<text x="88.71" y="130.1" font-family="Liberation Serif, serif" font-size="13.1" font-weight="normal" fill="#000" text-anchor="start" textLength="51.17" lengthAdjust="spacingAndGlyphs" stroke="#000" stroke-width="0.45"  letter-spacing="1.41">protons</text>
<text x="114.86" y="185.9" font-family="Liberation Sans, sans-serif" font-size="12.1" font-weight="normal" fill="#8800dd" text-anchor="start" textLength="93.98" lengthAdjust="spacingAndGlyphs"  letter-spacing="1.41">A=610±52 min</text>
<text x="105.09" y="197.8" font-family="Liberation Sans, sans-serif" font-size="12.1" font-weight="normal" fill="#8800dd" text-anchor="start" textLength="103.65" lengthAdjust="spacingAndGlyphs"  letter-spacing="1.10">D=2.29±0.78 AU</text>
<text x="79.43" y="210.1" font-family="Liberation Serif, serif" font-size="13.1" font-weight="normal" fill="#ff0000" text-anchor="start" textLength="62.76" lengthAdjust="spacingAndGlyphs" stroke="#ff0000" stroke-width="0.45"  letter-spacing="1.45">electrons</text>
<text x="247.29" y="130.7" font-family="Liberation Sans, sans-serif" font-size="12.1" font-weight="normal" fill="#8800dd" text-anchor="start" textLength="86.35" lengthAdjust="spacingAndGlyphs"  letter-spacing="1.44">A=601±7 min</text>
<text x="246.23" y="143.6" font-family="Liberation Sans, sans-serif" font-size="12.1" font-weight="normal" fill="#8800dd" text-anchor="start" textLength="104.03" lengthAdjust="spacingAndGlyphs"  letter-spacing="1.13">D=1.48±0.12 AU</text>
<text x="248.41" y="172.3" font-family="Liberation Serif, serif" font-size="13.1" font-weight="normal" fill="#000" text-anchor="start" textLength="50.96" lengthAdjust="spacingAndGlyphs" stroke="#000" stroke-width="0.45"  letter-spacing="1.39">protons</text>
<text x="275.55" y="204.9" font-family="Liberation Serif, serif" font-size="11.4" font-weight="normal" fill="#ff0000" text-anchor="start" textLength="83.35" lengthAdjust="spacingAndGlyphs" stroke="#ff0000" stroke-width="0.3"  letter-spacing="0.98">ACE/EPAM/DE</text>
<text x="253.5" y="215.5" font-family="Liberation Serif, serif" font-size="11.4" font-weight="normal" fill="#0000ff" text-anchor="start" textLength="73.09" lengthAdjust="spacingAndGlyphs" stroke="#0000ff" stroke-width="0.3"  letter-spacing="0.84">SOHO/EPHIN</text>
<text x="444.67" y="87.1" font-family="Liberation Serif, serif" font-size="13.1" font-weight="normal" fill="#000" text-anchor="start" textLength="51.01" lengthAdjust="spacingAndGlyphs" stroke="#000" stroke-width="0.45"  letter-spacing="1.39">protons</text>
<text x="456.79" y="185.3" font-family="Liberation Sans, sans-serif" font-size="12.1" font-weight="normal" fill="#8800dd" text-anchor="start" textLength="94.4" lengthAdjust="spacingAndGlyphs"  letter-spacing="1.45">A=618±87 min</text>
<text x="447.09" y="197.8" font-family="Liberation Sans, sans-serif" font-size="12.1" font-weight="normal" fill="#8800dd" text-anchor="start" textLength="103.95" lengthAdjust="spacingAndGlyphs"  letter-spacing="1.12">D=3.00±1.31 AU</text>
<text x="421.65" y="212.0" font-family="Liberation Serif, serif" font-size="13.1" font-weight="normal" fill="#ff0000" text-anchor="start" textLength="62.35" lengthAdjust="spacingAndGlyphs" stroke="#ff0000" stroke-width="0.45"  letter-spacing="1.41">electrons</text>
<text x="94.41" y="335.7" font-family="Liberation Serif, serif" font-size="13.1" font-weight="normal" fill="#000" text-anchor="start" textLength="51.26" lengthAdjust="spacingAndGlyphs" stroke="#000" stroke-width="0.45"  letter-spacing="1.43">protons</text>
<text x="115.14" y="399.2" font-family="Liberation Sans, sans-serif" font-size="12.1" font-weight="normal" fill="#8800dd" text-anchor="start" textLength="93.7" lengthAdjust="spacingAndGlyphs"  letter-spacing="1.39">A=638±45 min</text>
<text x="105.51" y="410.3" font-family="Liberation Sans, sans-serif" font-size="12.1" font-weight="normal" fill="#8800dd" text-anchor="start" textLength="103.23" lengthAdjust="spacingAndGlyphs"  letter-spacing="1.07">D=1.83±0.68 AU</text>
<text x="247.29" y="338.9" font-family="Liberation Sans, sans-serif" font-size="12.1" font-weight="normal" fill="#8800dd" text-anchor="start" textLength="86.35" lengthAdjust="spacingAndGlyphs"  letter-spacing="1.44">A=605±6 min</text>
<text x="246.23" y="350.0" font-family="Liberation Sans, sans-serif" font-size="12.1" font-weight="normal" fill="#8800dd" text-anchor="start" textLength="104.03" lengthAdjust="spacingAndGlyphs"  letter-spacing="1.13">D=1.18±0.10 AU</text>
<text x="236.9" y="387.1" font-family="Liberation Serif, serif" font-size="13.1" font-weight="normal" fill="#000" text-anchor="start" textLength="50.98" lengthAdjust="spacingAndGlyphs" stroke="#000" stroke-width="0.45"  letter-spacing="1.39">protons</text>
<text x="477.76" y="373.7" font-family="Liberation Serif, serif" font-size="13.1" font-weight="normal" fill="#000" text-anchor="start" textLength="51.22" lengthAdjust="spacingAndGlyphs" stroke="#000" stroke-width="0.45"  letter-spacing="1.42">protons</text>
<text x="456.66" y="401.7" font-family="Liberation Sans, sans-serif" font-size="12.1" font-weight="normal" fill="#8800dd" text-anchor="start" textLength="95.23" lengthAdjust="spacingAndGlyphs"  letter-spacing="1.52">A=605±88 min</text>
<text x="447.84" y="412.8" font-family="Liberation Sans, sans-serif" font-size="12.1" font-weight="normal" fill="#8800dd" text-anchor="start" textLength="103.25" lengthAdjust="spacingAndGlyphs"  letter-spacing="1.07">D=2.31±1.35 AU</text>
<text x="115.14" y="490.6" font-family="Liberation Sans, sans-serif" font-size="12.1" font-weight="normal" fill="#8800dd" text-anchor="start" textLength="93.7" lengthAdjust="spacingAndGlyphs"  letter-spacing="1.39">A=613±29 min</text>
<text x="105.51" y="501.6" font-family="Liberation Sans, sans-serif" font-size="12.1" font-weight="normal" fill="#8800dd" text-anchor="start" textLength="103.23" lengthAdjust="spacingAndGlyphs"  letter-spacing="1.07">D=2.21±0.40 AU</text>
<text x="94.71" y="542.7" font-family="Liberation Serif, serif" font-size="13.1" font-weight="normal" fill="#000" text-anchor="start" textLength="50.17" lengthAdjust="spacingAndGlyphs" stroke="#000" stroke-width="0.45"  letter-spacing="1.28">protons</text>
<text x="98.3" y="554.3" font-family="Liberation Serif, serif" font-size="13.1" font-weight="normal" fill="#000" text-anchor="start" textLength="32.25" lengthAdjust="spacingAndGlyphs" stroke="#000" stroke-width="0.45"  letter-spacing="0.00">(LET)</text>
<text x="115.39" y="600.1" font-family="Liberation Sans, sans-serif" font-size="12.1" font-weight="normal" fill="#ff0000" text-anchor="start" textLength="94.05" lengthAdjust="spacingAndGlyphs"  letter-spacing="1.42">A=611±29 min</text>
<text x="105.23" y="611.7" font-family="Liberation Sans, sans-serif" font-size="12.1" font-weight="normal" fill="#ff0000" text-anchor="start" textLength="104.16" lengthAdjust="spacingAndGlyphs"  letter-spacing="1.14">D=1.16±0.21 AU</text>
<text x="0.0" y="-0.5" font-family="Liberation Serif, serif" font-size="13.1" font-weight="normal" fill="#ff0000" text-anchor="start" textLength="59.4" lengthAdjust="spacingAndGlyphs" stroke="#ff0000" stroke-width="0.45" transform="translate(102.9 594.5) rotate(-21)" letter-spacing="1.09">electrons</text>
<text x="247.29" y="540.0" font-family="Liberation Sans, sans-serif" font-size="12.1" font-weight="normal" fill="#8800dd" text-anchor="start" textLength="86.35" lengthAdjust="spacingAndGlyphs"  letter-spacing="1.44">A=603±7 min</text>
<text x="246.23" y="551.1" font-family="Liberation Sans, sans-serif" font-size="12.1" font-weight="normal" fill="#8800dd" text-anchor="start" textLength="104.08" lengthAdjust="spacingAndGlyphs"  letter-spacing="1.13">D=1.52±0.11 AU</text>
<text x="236.9" y="583.7" font-family="Liberation Serif, serif" font-size="13.1" font-weight="normal" fill="#000" text-anchor="start" textLength="50.98" lengthAdjust="spacingAndGlyphs" stroke="#000" stroke-width="0.45"  letter-spacing="1.39">protons</text>
<text x="297.39" y="602.3" font-family="Liberation Sans, sans-serif" font-size="12.1" font-weight="normal" fill="#ff0000" text-anchor="start" textLength="87.65" lengthAdjust="spacingAndGlyphs"  letter-spacing="0.87">A=599±13 min</text>
<text x="287.73" y="612.5" font-family="Liberation Sans, sans-serif" font-size="12.1" font-weight="normal" fill="#ff0000" text-anchor="start" textLength="97.76" lengthAdjust="spacingAndGlyphs"  letter-spacing="0.67">D=1.05±0.74 AU</text>
<text x="0.0" y="-0.5" font-family="Liberation Serif, serif" font-size="13.1" font-weight="normal" fill="#ff0000" text-anchor="start" textLength="60.7" lengthAdjust="spacingAndGlyphs" stroke="#ff0000" stroke-width="0.45" transform="translate(320.6 586.3) rotate(-20.6)" letter-spacing="1.23">electrons</text>
<text x="409.31" y="483.9" font-family="Liberation Sans, sans-serif" font-size="12.1" font-weight="normal" fill="#8800dd" text-anchor="start" textLength="101.2" lengthAdjust="spacingAndGlyphs"  letter-spacing="1.35">A=653±123 min</text>
<text x="408.51" y="496.7" font-family="Liberation Sans, sans-serif" font-size="12.1" font-weight="normal" fill="#8800dd" text-anchor="start" textLength="104.55" lengthAdjust="spacingAndGlyphs"  letter-spacing="1.16">D=2.15±1.62 AU</text>
<text x="444.71" y="512.0" font-family="Liberation Serif, serif" font-size="13.1" font-weight="normal" fill="#000" text-anchor="start" textLength="50.57" lengthAdjust="spacingAndGlyphs" stroke="#000" stroke-width="0.45"  letter-spacing="1.33">protons</text>
<text x="444.02" y="523.6" font-family="Liberation Serif, serif" font-size="13.1" font-weight="normal" fill="#000" text-anchor="start" textLength="32.3" lengthAdjust="spacingAndGlyphs" stroke="#000" stroke-width="0.45"  letter-spacing="0.00">(LET)</text>
<text x="445.99" y="600.4" font-family="Liberation Sans, sans-serif" font-size="12.1" font-weight="normal" fill="#ff0000" text-anchor="start" textLength="105.28" lengthAdjust="spacingAndGlyphs"  letter-spacing="1.31">A=626.±103 min</text>
<text x="448.93" y="610.7" font-family="Liberation Sans, sans-serif" font-size="12.1" font-weight="normal" fill="#ff0000" text-anchor="start" textLength="102.13" lengthAdjust="spacingAndGlyphs"  letter-spacing="0.99">D=2.00±5.79 AU</text>
<text x="0.0" y="-0.5" font-family="Liberation Serif, serif" font-size="13.1" font-weight="normal" fill="#ff0000" text-anchor="start" textLength="61.5" lengthAdjust="spacingAndGlyphs" stroke="#ff0000" stroke-width="0.45" transform="translate(466.2 578.2) rotate(-32.6)" letter-spacing="1.32">electrons</text>
<text x="51.7" y="26.0" font-family="Liberation Sans, sans-serif" font-size="12" font-weight="normal" fill="#000" text-anchor="end" textLength="29" lengthAdjust="spacingAndGlyphs" >1000</text>
<text x="51.7" y="72.8" font-family="Liberation Sans, sans-serif" font-size="12" font-weight="normal" fill="#000" text-anchor="end" textLength="22.2" lengthAdjust="spacingAndGlyphs" >900</text>
<text x="51.7" y="123.5" font-family="Liberation Sans, sans-serif" font-size="12" font-weight="normal" fill="#000" text-anchor="end" textLength="22.2" lengthAdjust="spacingAndGlyphs" >800</text>
<text x="51.7" y="173.5" font-family="Liberation Sans, sans-serif" font-size="12" font-weight="normal" fill="#000" text-anchor="end" textLength="22.2" lengthAdjust="spacingAndGlyphs" >700</text>
<text x="51.7" y="218.7" font-family="Liberation Sans, sans-serif" font-size="12" font-weight="normal" fill="#000" text-anchor="end" textLength="22.2" lengthAdjust="spacingAndGlyphs" >600</text>
<text x="51.7" y="245.6" font-family="Liberation Sans, sans-serif" font-size="12" font-weight="normal" fill="#000" text-anchor="end" textLength="29" lengthAdjust="spacingAndGlyphs" >1000</text>
<text x="51.7" y="290.2" font-family="Liberation Sans, sans-serif" font-size="12" font-weight="normal" fill="#000" text-anchor="end" textLength="22.2" lengthAdjust="spacingAndGlyphs" >900</text>
<text x="51.7" y="334.8" font-family="Liberation Sans, sans-serif" font-size="12" font-weight="normal" fill="#000" text-anchor="end" textLength="22.2" lengthAdjust="spacingAndGlyphs" >800</text>
<text x="51.7" y="379.7" font-family="Liberation Sans, sans-serif" font-size="12" font-weight="normal" fill="#000" text-anchor="end" textLength="22.2" lengthAdjust="spacingAndGlyphs" >700</text>
<text x="51.7" y="419.5" font-family="Liberation Sans, sans-serif" font-size="12" font-weight="normal" fill="#000" text-anchor="end" textLength="22.2" lengthAdjust="spacingAndGlyphs" >600</text>
<text x="51.7" y="446.4" font-family="Liberation Sans, sans-serif" font-size="12" font-weight="normal" fill="#000" text-anchor="end" textLength="29" lengthAdjust="spacingAndGlyphs" >1000</text>
<text x="51.7" y="491.4" font-family="Liberation Sans, sans-serif" font-size="12" font-weight="normal" fill="#000" text-anchor="end" textLength="22.2" lengthAdjust="spacingAndGlyphs" >900</text>
<text x="51.7" y="535.9000000000001" font-family="Liberation Sans, sans-serif" font-size="12" font-weight="normal" fill="#000" text-anchor="end" textLength="22.2" lengthAdjust="spacingAndGlyphs" >800</text>
<text x="51.7" y="580.4000000000001" font-family="Liberation Sans, sans-serif" font-size="12" font-weight="normal" fill="#000" text-anchor="end" textLength="22.2" lengthAdjust="spacingAndGlyphs" >700</text>
<text x="51.7" y="620.2" font-family="Liberation Sans, sans-serif" font-size="12" font-weight="normal" fill="#000" text-anchor="end" textLength="22.2" lengthAdjust="spacingAndGlyphs" >600</text>
<text x="56.7" y="635.8" font-family="Liberation Sans, sans-serif" font-size="11.8" font-weight="normal" fill="#000" text-anchor="middle" textLength="6.5" lengthAdjust="spacingAndGlyphs" >0</text>
<text x="79.05714285714286" y="635.8" font-family="Liberation Sans, sans-serif" font-size="11.8" font-weight="normal" fill="#000" text-anchor="middle" textLength="6.5" lengthAdjust="spacingAndGlyphs" >2</text>
<text x="101.41428571428571" y="635.8" font-family="Liberation Sans, sans-serif" font-size="11.8" font-weight="normal" fill="#000" text-anchor="middle" textLength="6.5" lengthAdjust="spacingAndGlyphs" >4</text>
<text x="123.77142857142857" y="635.8" font-family="Liberation Sans, sans-serif" font-size="11.8" font-weight="normal" fill="#000" text-anchor="middle" textLength="6.5" lengthAdjust="spacingAndGlyphs" >6</text>
<text x="146.12857142857143" y="635.8" font-family="Liberation Sans, sans-serif" font-size="11.8" font-weight="normal" fill="#000" text-anchor="middle" textLength="6.5" lengthAdjust="spacingAndGlyphs" >8</text>
<text x="168.4857142857143" y="635.8" font-family="Liberation Sans, sans-serif" font-size="11.8" font-weight="normal" fill="#000" text-anchor="middle" textLength="13.5" lengthAdjust="spacingAndGlyphs" >10</text>
<text x="190.84285714285716" y="635.8" font-family="Liberation Sans, sans-serif" font-size="11.8" font-weight="normal" fill="#000" text-anchor="middle" textLength="13.5" lengthAdjust="spacingAndGlyphs" >12</text>
<text x="213.2" y="635.8" font-family="Liberation Sans, sans-serif" font-size="11.8" font-weight="normal" fill="#000" text-anchor="middle" textLength="13.5" lengthAdjust="spacingAndGlyphs" >14</text>
<text x="125.30000000000001" y="647.8" font-family="Liberation Sans, sans-serif" font-size="10.2" font-weight="normal" fill="#000" text-anchor="start" >1</text>
<line x1="137.6" y1="639.7" x2="131.2" y2="652" stroke="#000" stroke-width="1.1"/>
<text x="138.0" y="647.8" font-family="Liberation Sans, sans-serif" font-size="10.5" font-weight="normal" fill="#000" text-anchor="start" font-style="italic">β</text>
<text x="231.0" y="635.8" font-family="Liberation Sans, sans-serif" font-size="11.8" font-weight="normal" fill="#000" text-anchor="middle" textLength="6.5" lengthAdjust="spacingAndGlyphs" >0</text>
<text x="253.35714285714286" y="635.8" font-family="Liberation Sans, sans-serif" font-size="11.8" font-weight="normal" fill="#000" text-anchor="middle" textLength="6.5" lengthAdjust="spacingAndGlyphs" >2</text>
<text x="275.7142857142857" y="635.8" font-family="Liberation Sans, sans-serif" font-size="11.8" font-weight="normal" fill="#000" text-anchor="middle" textLength="6.5" lengthAdjust="spacingAndGlyphs" >4</text>
<text x="298.07142857142856" y="635.8" font-family="Liberation Sans, sans-serif" font-size="11.8" font-weight="normal" fill="#000" text-anchor="middle" textLength="6.5" lengthAdjust="spacingAndGlyphs" >6</text>
<text x="320.42857142857144" y="635.8" font-family="Liberation Sans, sans-serif" font-size="11.8" font-weight="normal" fill="#000" text-anchor="middle" textLength="6.5" lengthAdjust="spacingAndGlyphs" >8</text>
<text x="342.7857142857143" y="635.8" font-family="Liberation Sans, sans-serif" font-size="11.8" font-weight="normal" fill="#000" text-anchor="middle" textLength="13.5" lengthAdjust="spacingAndGlyphs" >10</text>
<text x="365.1428571428571" y="635.8" font-family="Liberation Sans, sans-serif" font-size="11.8" font-weight="normal" fill="#000" text-anchor="middle" textLength="13.5" lengthAdjust="spacingAndGlyphs" >12</text>
<text x="387.5" y="635.8" font-family="Liberation Sans, sans-serif" font-size="11.8" font-weight="normal" fill="#000" text-anchor="middle" textLength="13.5" lengthAdjust="spacingAndGlyphs" >14</text>
<text x="299.6" y="647.8" font-family="Liberation Sans, sans-serif" font-size="10.2" font-weight="normal" fill="#000" text-anchor="start" >1</text>
<line x1="311.9" y1="639.7" x2="305.5" y2="652" stroke="#000" stroke-width="1.1"/>
<text x="312.3" y="647.8" font-family="Liberation Sans, sans-serif" font-size="10.5" font-weight="normal" fill="#000" text-anchor="start" font-style="italic">β</text>
<text x="398.8" y="635.8" font-family="Liberation Sans, sans-serif" font-size="11.8" font-weight="normal" fill="#000" text-anchor="middle" textLength="6.5" lengthAdjust="spacingAndGlyphs" >0</text>
<text x="421.15714285714284" y="635.8" font-family="Liberation Sans, sans-serif" font-size="11.8" font-weight="normal" fill="#000" text-anchor="middle" textLength="6.5" lengthAdjust="spacingAndGlyphs" >2</text>
<text x="443.51428571428573" y="635.8" font-family="Liberation Sans, sans-serif" font-size="11.8" font-weight="normal" fill="#000" text-anchor="middle" textLength="6.5" lengthAdjust="spacingAndGlyphs" >4</text>
<text x="465.87142857142857" y="635.8" font-family="Liberation Sans, sans-serif" font-size="11.8" font-weight="normal" fill="#000" text-anchor="middle" textLength="6.5" lengthAdjust="spacingAndGlyphs" >6</text>
<text x="488.22857142857146" y="635.8" font-family="Liberation Sans, sans-serif" font-size="11.8" font-weight="normal" fill="#000" text-anchor="middle" textLength="6.5" lengthAdjust="spacingAndGlyphs" >8</text>
<text x="510.5857142857143" y="635.8" font-family="Liberation Sans, sans-serif" font-size="11.8" font-weight="normal" fill="#000" text-anchor="middle" textLength="13.5" lengthAdjust="spacingAndGlyphs" >10</text>
<text x="532.9428571428572" y="635.8" font-family="Liberation Sans, sans-serif" font-size="11.8" font-weight="normal" fill="#000" text-anchor="middle" textLength="13.5" lengthAdjust="spacingAndGlyphs" >12</text>
<text x="555.3" y="635.8" font-family="Liberation Sans, sans-serif" font-size="11.8" font-weight="normal" fill="#000" text-anchor="middle" textLength="13.5" lengthAdjust="spacingAndGlyphs" >14</text>
<text x="467.4" y="647.8" font-family="Liberation Sans, sans-serif" font-size="10.2" font-weight="normal" fill="#000" text-anchor="start" >1</text>
<line x1="479.7" y1="639.7" x2="473.3" y2="652" stroke="#000" stroke-width="1.1"/>
<text x="480.1" y="647.8" font-family="Liberation Sans, sans-serif" font-size="10.5" font-weight="normal" fill="#000" text-anchor="start" font-style="italic">β</text>
<text x="0.0" y="0" font-family="Liberation Serif, serif" font-size="14.0" font-weight="normal" fill="#000" text-anchor="start" textLength="129.0" lengthAdjust="spacingAndGlyphs" stroke="#000" stroke-width="0.3" transform="translate(10.3 182.4) rotate(-90)" letter-spacing="1.30">Minute of Day 226</text>
<text x="0.0" y="0" font-family="Liberation Serif, serif" font-size="14.0" font-weight="normal" fill="#000" text-anchor="start" textLength="129.0" lengthAdjust="spacingAndGlyphs" stroke="#000" stroke-width="0.3" transform="translate(10.3 383.2) rotate(-90)" letter-spacing="1.30">Minute of Day 226</text>
<text x="0.0" y="0" font-family="Liberation Serif, serif" font-size="14.0" font-weight="normal" fill="#000" text-anchor="start" textLength="129.0" lengthAdjust="spacingAndGlyphs" stroke="#000" stroke-width="0.3" transform="translate(10.3 584.0) rotate(-90)" letter-spacing="1.30">Minute of Day 226</text>
</svg></body></html>
